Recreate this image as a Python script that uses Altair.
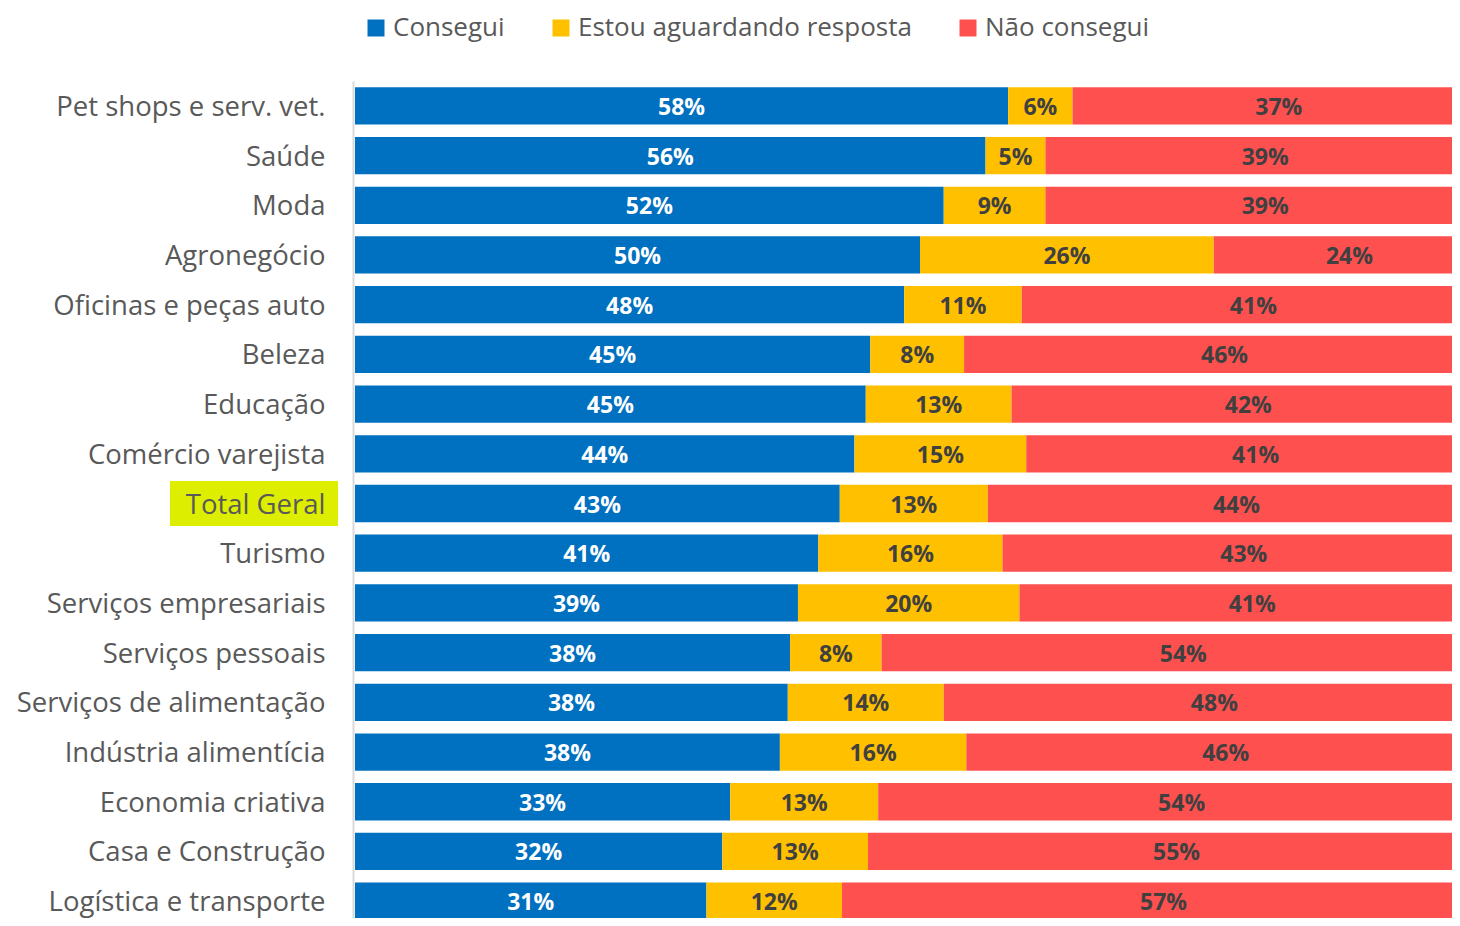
import altair as alt
import pandas as pd

categorias = [
    "Pet shops e serv. vet.", "Saúde", "Moda", "Agronegócio",
    "Oficinas e peças auto", "Beleza", "Educação", "Comércio varejista",
    "Total Geral", "Turismo", "Serviços empresariais", "Serviços pessoais",
    "Serviços de alimentação", "Indústria alimentícia", "Economia criativa",
    "Casa e Construção", "Logística e transporte",
]
# bar lengths (%)
consegui = [57.8, 55.8, 52.1, 50.0, 48.6, 45.6, 45.2, 44.2, 42.9, 41.0,
            39.2, 38.5, 38.3, 37.6, 33.2, 32.5, 31.1]
aguardando = [5.7, 5.3, 9.0, 26.0, 10.4, 8.3, 12.9, 15.2, 13.1, 16.3,
              19.6, 8.1, 13.8, 16.5, 13.1, 12.9, 12.0]
nao_consegui = [36.5, 38.9, 38.9, 24.0, 41.0, 46.1, 41.9, 40.6, 44.0, 42.7,
                41.2, 53.4, 47.9, 45.9, 53.7, 54.6, 56.9]
# printed data labels
rot_consegui = ["58%", "56%", "52%", "50%", "48%", "45%", "45%", "44%", "43%",
                "41%", "39%", "38%", "38%", "38%", "33%", "32%", "31%"]
rot_aguardando = ["6%", "5%", "9%", "26%", "11%", "8%", "13%", "15%", "13%",
                  "16%", "20%", "8%", "14%", "16%", "13%", "13%", "12%"]
rot_nao = ["37%", "39%", "39%", "24%", "41%", "46%", "42%", "41%", "44%",
           "43%", "41%", "54%", "48%", "46%", "54%", "55%", "57%"]
series = ["Consegui", "Estou aguardando resposta", "Não consegui"]
cores = ["#0070C0", "#FFC000", "#FF5050"]
destaque = "Total Geral"

rows = []
for i, cat in enumerate(categorias):
    vals = [consegui[i], aguardando[i], nao_consegui[i]]
    rots = [rot_consegui[i], rot_aguardando[i], rot_nao[i]]
    cum = 0
    for j, (s, v, r) in enumerate(zip(series, vals, rots)):
        mid = cum + v / 2
        cum += v
        rows.append({"cat": cat, "serie": s, "ordem": j, "valor": v,
                     "mid": mid, "rotulo": r})
df = pd.DataFrame(rows)

FONT = "Open Sans"
LABEL_COLOR = "#595959"

y_enc = alt.Y(
    "cat:N", sort=categorias, title=None,
    scale=alt.Scale(paddingInner=0.25, paddingOuter=0.125),
    axis=alt.Axis(ticks=False, labelFontSize=27.5, labelColor=LABEL_COLOR,
                  labelFont=FONT, labelLimit=400, labelPadding=28,
                  labelOffset=2,
                  domainColor="#D9D9D9", domainWidth=2, offset=2,
                  zindex=1, grid=False),
)

x_scale = alt.Scale(domain=[0, 100], nice=False)

base = alt.Chart(df)

highlight = base.transform_filter(alt.datum.cat == destaque).transform_filter(
    alt.datum.ordem == 0
).mark_bar(color="#DDEE00", size=45, clip=False).encode(
    y=y_enc, x=alt.value(-185), x2=alt.value(-17)
)

bars = base.mark_bar().encode(
    y=y_enc,
    x=alt.X("valor:Q", stack="zero", axis=None, scale=x_scale),
    color=alt.Color(
        "serie:N",
        scale=alt.Scale(domain=series, range=cores),
        legend=alt.Legend(
            title=None, orient="none", direction="horizontal",
            legendX=8, legendY=-66, padding=0,
            symbolType="square", symbolSize=289, symbolStrokeWidth=0,
            labelFontSize=26, labelFont=FONT, labelColor=LABEL_COLOR,
            labelOffset=4, columnPadding=43, labelLimit=500,
        ),
    ),
    order=alt.Order("ordem:Q"),
)

texts = base.mark_text(fontSize=23, fontWeight="bold", font=FONT,
                       baseline="middle", dy=2).encode(
    y=y_enc,
    x=alt.X("mid:Q", scale=x_scale),
    text="rotulo:N",
    color=alt.condition(alt.datum.serie == "Consegui",
                        alt.value("white"), alt.value("#404040")),
)

chart = alt.layer(highlight, bars, texts).properties(
    width=1130, height=845,
    autosize=alt.AutoSizeParams(type="none"),
    padding={"left": 347, "top": 73, "right": -33, "bottom": -8},
).configure_view(stroke=None)

chart.save("out.html", embed_options={"renderer": "svg", "actions": False})
